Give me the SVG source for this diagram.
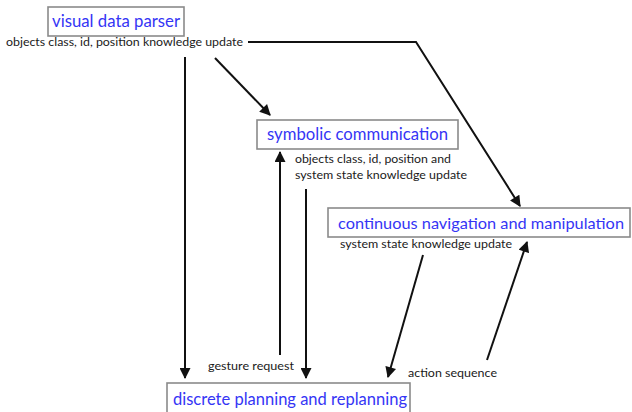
<svg xmlns="http://www.w3.org/2000/svg" width="632" height="412" viewBox="0 0 632 412">
  <style>
    .box { fill: #ffffff; stroke: #8a8a8a; stroke-width: 1.6; }
    .title { font-family: Lato, "Open Sans", sans-serif; font-size: 17px; fill: #3535f5; }
    .title.long { font-size: 16px; }
    .lbl { font-family: Lato, "Open Sans", sans-serif; font-size: 11.5px; fill: #1a1a1a; }
    .edge { fill: none; stroke: #111111; stroke-width: 2; marker-end: url(#arrow); }
  </style>
  <defs>
    <marker id="arrow" viewBox="0 0 10 10" refX="9" refY="5" markerWidth="6" markerHeight="5.5" orient="auto" markerUnits="strokeWidth">
      <path d="M0,0 L10,5 L0,10 Z" fill="#111111"/>
    </marker>
  </defs>

  <g id="connectors">
    <line class="edge" x1="185" y1="57" x2="185" y2="378"/>
    <line class="edge" x1="215" y1="58" x2="270" y2="115"/>
    <polyline class="edge" points="248,42 416,42 520,206"/>
    <line class="edge" x1="280" y1="355" x2="280" y2="152"/>
    <line class="edge" x1="306" y1="189" x2="306" y2="378"/>
    <line class="edge" x1="423" y1="255" x2="388" y2="377"/>
    <line class="edge" x1="487" y1="360" x2="527" y2="242"/>
  </g>

  <g id="visual-data-parser">
    <rect class="box" x="48" y="7" width="136" height="29"/>
    <text class="title" x="52" y="27" textLength="128" lengthAdjust="spacingAndGlyphs">visual data parser</text>
    <text class="lbl" x="6" y="46" textLength="237" lengthAdjust="spacingAndGlyphs">objects class, id, position knowledge update</text>
  </g>

  <g id="symbolic-communication">
    <rect class="box" x="257" y="120" width="201" height="29"/>
    <text class="title" x="267" y="140" textLength="181" lengthAdjust="spacingAndGlyphs">symbolic communication</text>
    <text class="lbl" x="295" y="163" textLength="156" lengthAdjust="spacingAndGlyphs">objects class, id, position and</text>
    <text class="lbl" x="295" y="179" textLength="172" lengthAdjust="spacingAndGlyphs">system state knowledge update</text>
  </g>

  <g id="continuous-navigation">
    <rect class="box" x="328" y="208" width="302" height="29"/>
    <text class="title long" x="338" y="229" textLength="286" lengthAdjust="spacingAndGlyphs">continuous navigation and manipulation</text>
    <text class="lbl" x="340" y="248" textLength="172" lengthAdjust="spacingAndGlyphs">system state knowledge update</text>
  </g>

  <g id="discrete-planning">
    <rect class="box" x="167" y="383" width="243" height="34"/>
    <text class="title" x="173" y="405" textLength="234" lengthAdjust="spacingAndGlyphs">discrete planning and replanning</text>
  </g>

  <g id="edge-labels">
    <text class="lbl" x="208" y="370" textLength="86" lengthAdjust="spacingAndGlyphs">gesture request</text>
    <text class="lbl" x="408" y="377" textLength="89" lengthAdjust="spacingAndGlyphs">action sequence</text>
  </g>
</svg>
